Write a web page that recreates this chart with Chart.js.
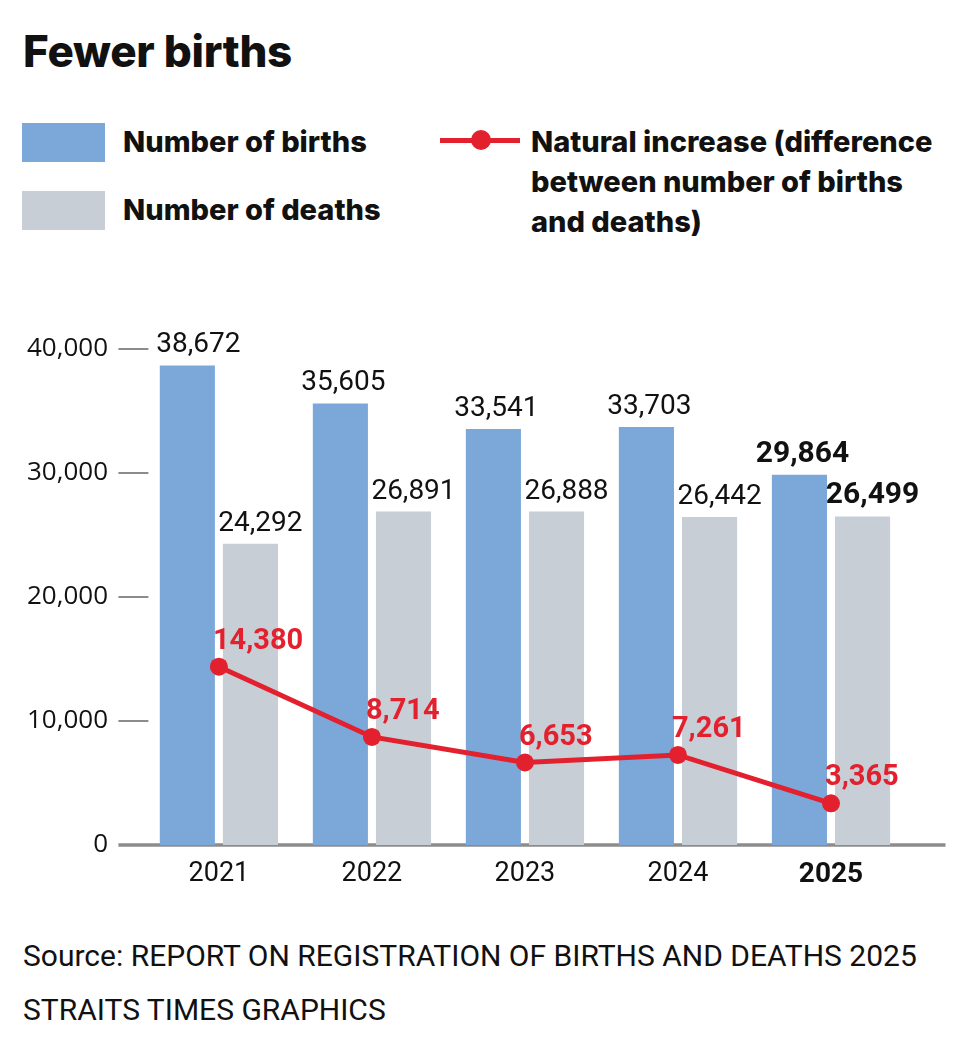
<!DOCTYPE html>
<html>
<head>
<meta charset="utf-8">
<script src="https://cdn.jsdelivr.net/npm/chart.js@4.4.1/dist/chart.umd.min.js"></script>
<style>
  html, body { margin: 0; padding: 0; background: #fff; }
  body { width: 960px; height: 1062px; position: relative; overflow: hidden; }
  .hd { font-family: Inter, "Open Sans", sans-serif; color: #111; font-weight: 800; }
  #title { position: absolute; left: 23px; top: 21px; font-size: 44px; line-height: 60px; white-space: nowrap; letter-spacing: -0.3px; }
  .sw { position: absolute; left: 22px; width: 83px; height: 39px; }
  .lt { position: absolute; font-size: 29px; line-height: 40px; white-space: nowrap; }
  #lineKey { position: absolute; left: 440px; top: 138px; width: 80px; height: 5px; background: #e3202e; }
  #lineDot { position: absolute; left: 471px; top: 130px; width: 20px; height: 20px; border-radius: 50%; background: #e3202e; }
  #source { position: absolute; left: 23px; top: 929px; font-family: Roboto, sans-serif; font-size: 30px; line-height: 54px; font-weight: 400; color: #111; white-space: nowrap; }
  #wrap { position: absolute; left: 0; top: 280px; width: 960px; height: 640px; }
</style>
</head>
<body>
<div id="title" class="hd">Fewer births</div>
<div class="sw" style="top:123px;background:#7ba8d8"></div>
<div class="lt hd" style="left:123px;top:122px">Number of births</div>
<div class="sw" style="top:191px;background:#c8ced5"></div>
<div class="lt hd" style="left:123px;top:190px">Number of deaths</div>
<div id="lineKey"></div><div id="lineDot"></div>
<div class="lt hd" style="left:531px;top:122px">Natural increase (difference<br>between number of births<br>and deaths)</div>
<div id="source">Source: REPORT ON REGISTRATION OF BIRTHS AND DEATHS 2025<br>STRAITS TIMES GRAPHICS</div>
<div id="wrap"><canvas id="c"></canvas></div>
<script>
const years = ["2021", "2022", "2023", "2024", "2025"];
const births = [38672, 35605, 33541, 33703, 29864];
const deaths = [24292, 26891, 26888, 26442, 26499];
const naturalIncrease = [14380, 8714, 6653, 7261, 3365];
const yTicks = [0, 10000, 20000, 30000, 40000];

const BLUE = "#7ba8d8", GRAY = "#c8ced5", RED = "#e3202e", AXIS = "#8c8c8c";
const fmt = v => v.toLocaleString("en-US");
const isLast = i => i === years.length - 1;

const decor = {
  id: "decor",
  beforeDatasetsDraw(chart) {
    const { ctx, chartArea, scales } = chart;
    const y = scales.y;
    ctx.save();
    ctx.strokeStyle = AXIS;
    yTicks.forEach(v => {
      const py = y.getPixelForValue(v);
      ctx.beginPath();
      if (v === 0) {
        ctx.lineWidth = 3.5;
        ctx.moveTo(chartArea.left - 24, py);
        ctx.lineTo(chartArea.right + 38, py);
      } else {
        ctx.lineWidth = 2;
        ctx.moveTo(chartArea.left - 24, py);
        ctx.lineTo(chartArea.left + 6, py);
      }
      ctx.stroke();
    });
    ctx.restore();
  },
  afterDatasetsDraw(chart) {
    const { ctx } = chart;
    ctx.save();
    ctx.textBaseline = "alphabetic";
    [[0, 3, births], [1, 10, deaths]].forEach(([di, shift, arr]) => {
      chart.getDatasetMeta(di).data.forEach((el, i) => {
        ctx.fillStyle = "#111";
        ctx.textAlign = "center";
        ctx.font = isLast(i) ? "700 30px Roboto" : "400 28px Roboto";
        const extra = (di === 0 && i === 0) ? 8 : 0;
        ctx.fillText(fmt(arr[i]), el.x + shift + extra, el.y - 13);
      });
    });
    chart.getDatasetMeta(2).data.forEach((el, i) => {
      ctx.fillStyle = RED;
      ctx.textAlign = "left";
      ctx.font = "700 29px Roboto";
      ctx.fillText(fmt(naturalIncrease[i]), el.x - 6, el.y - 18);
    });
    ctx.restore();
  }
};

new Chart(document.getElementById("c"), {
  data: {
    labels: years,
    datasets: [
      { type: "bar", label: "Number of births", data: births, backgroundColor: BLUE, order: 1,
        barPercentage: 0.873, categoryPercentage: 0.825 },
      { type: "bar", label: "Number of deaths", data: deaths, backgroundColor: GRAY, order: 2,
        barPercentage: 0.873, categoryPercentage: 0.825 },
      { type: "line", label: "Natural increase", data: naturalIncrease, borderColor: RED, borderWidth: 5,
        pointRadius: 9, pointBackgroundColor: RED, pointBorderWidth: 0, tension: 0, order: 0 }
    ]
  },
  options: {
    responsive: true,
    maintainAspectRatio: false,
    animation: false,
    devicePixelRatio: 1,
    layout: { padding: { top: 69, right: 52.5, left: 0, bottom: 0 } },
    plugins: { legend: { display: false }, tooltip: { enabled: false } },
    scales: {
      x: {
        grid: { display: false, drawTicks: false, tickLength: 0 },
        border: { display: false },
        ticks: {
          padding: 13,
          color: "#111",
          font: ctx => isLast(ctx.index) ? { family: "Roboto", size: 28, weight: "700" } : { family: "Roboto", size: 27, weight: "400" }
        },
        afterFit: s => { s.height = 75; }
      },
      y: {
        min: 0, max: 40000,
        grid: { display: false, drawTicks: false, tickLength: 0 },
        border: { display: false },
        afterBuildTicks: s => { s.ticks = yTicks.map(v => ({ value: v })); },
        ticks: {
          padding: 34.4,
          color: "#111",
          font: { family: "Open Sans", size: 26, weight: "400" },
          callback: v => fmt(v)
        },
        afterFit: s => { s.width = 142.4; }
      }
    }
  },
  plugins: [decor]
});
</script>
</body>
</html>
